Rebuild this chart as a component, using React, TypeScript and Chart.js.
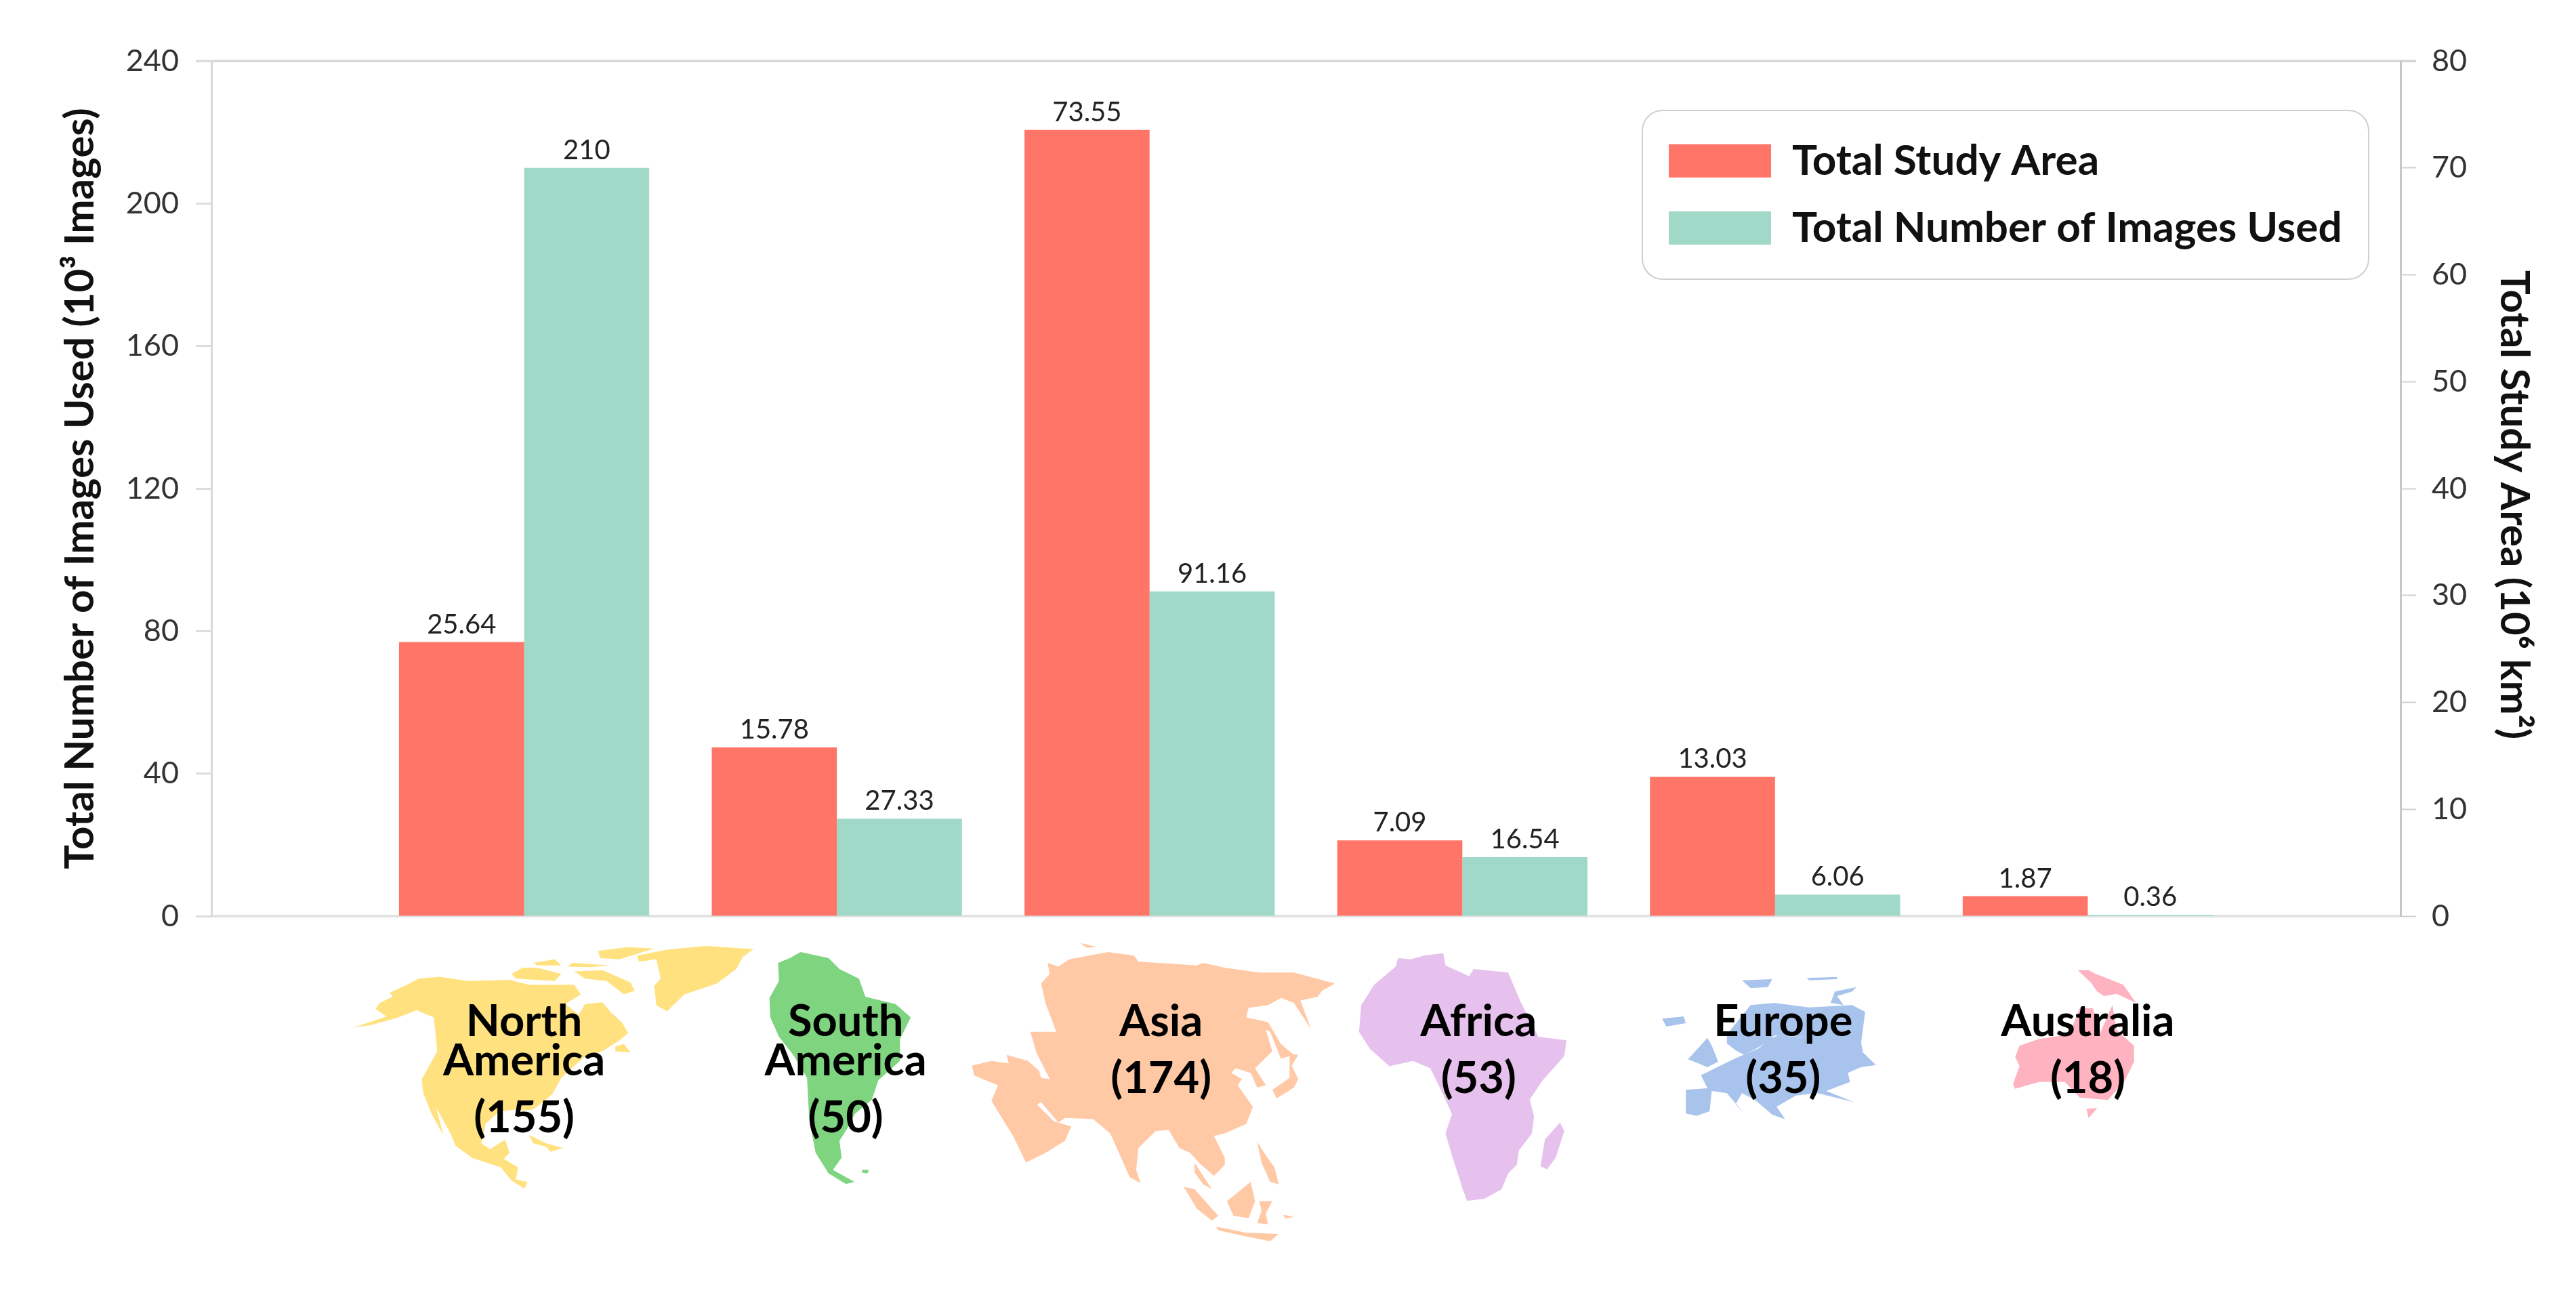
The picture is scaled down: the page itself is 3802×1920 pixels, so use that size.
import React, { useEffect, useRef } from "react";
import { Chart, registerables } from "chart.js";

Chart.register(...registerables);

// ---------- data ----------
const categories = ["", "North America", "South America", "Asia", "Africa", "Europe", "Australia", ""];
const studyArea = [null, 25.64, 15.78, 73.55, 7.09, 13.03, 1.87, null];
const imagesUsed = [null, 210, 27.33, 91.16, 16.54, 6.06, 0.36, null];
const studyAreaText = ["", "25.64", "15.78", "73.55", "7.09", "13.03", "1.87", ""];
const imagesUsedText = ["", "210", "27.33", "91.16", "16.54", "6.06", "0.36", ""];
const nameLines = [["North", "America"], ["South", "America"], ["Asia"], ["Africa"], ["Europe"], ["Australia"]];
const studyCounts = ["(155)", "(50)", "(174)", "(53)", "(35)", "(18)"];
const labelShift = [0, 13, 17, 24, 12, 0];
const seriesNames = ["Total Study Area", "Total Number of Images Used"];
const leftTitle = "Total Number of Images Used (10³ Images)";
const rightTitle = "Total Study Area (10⁶ km²)";

// ---------- styles ----------
const RED = "#FF7568";
const TEAL = "#A0D9C8";
const FONT = "Lato, 'Noto Sans', sans-serif";

// ---------- decorative continent outlines (traced units, placed relative to each category) ----------
type Poly = number[][];
const naShape: Poly[] = [
  [[65,522],[140,476],[115,445],[125,420],[155,395],[148,378],[188,345],[215,320],[262,312],[330,330],[425,325],[470,345],[530,345],[575,345],[590,385],[555,425],[585,470],[600,425],[640,418],[660,460],[685,500],[700,545],[680,575],[640,620],[600,640],[545,730],[525,795],[510,820],[480,860],[455,865],[440,860],[400,870],[370,920],[360,1000],[380,1025],[415,985],[425,1040],[412,1065],[445,1100],[440,1150],[467,1160],[460,1188],[430,1155],[405,1100],[340,1062],[300,1010],[290,965],[255,850],[272,965],[245,880],[225,790],[222,735],[258,620],[250,480],[210,450],[165,482],[105,512]],
  [[430,300],[455,275],[490,275],[545,300],[530,330],[440,320]],
  [[480,255],[530,240],[545,265],[490,265]],
  [[570,255],[660,265],[610,272],[560,270]],
  [[575,290],[640,285],[705,335],[715,370],[690,385],[650,330],[600,320]],
  [[630,205],[700,190],[760,195],[680,240],[635,235]],
  [[720,225],[790,200],[880,185],[990,198],[965,230],[950,280],[905,340],[830,385],[790,455],[765,430],[760,350],[775,320],[765,240],[725,250]],
  [[670,600],[690,590],[705,625],[670,620]],
  [[470,965],[510,1000],[550,1020],[520,1035],[510,1015],[480,1000]],
];
const saShape: Poly[] = [
  [[1100,210],[1165,235],[1190,280],[1235,320],[1250,395],[1320,425],[1355,480],[1330,570],[1330,660],[1280,740],[1265,820],[1225,880],[1215,920],[1190,990],[1195,1060],[1175,1110],[1225,1160],[1205,1168],[1165,1125],[1135,1040],[1120,900],[1115,730],[1085,640],[1050,560],[1030,480],[1028,400],[1050,330],[1048,255],[1075,235]],
  [[1242,1110],[1258,1110],[1255,1125],[1243,1122]],
];
const asiaShape: Poly[] = [
  [[230,255],[255,270],[280,240],[370,210],[430,225],[440,250],[530,260],[575,265],[590,255],[640,275],[720,295],[800,295],[895,340],[865,370],[855,395],[815,410],[840,530],[800,420],[770,400],[740,430],[695,440],[690,480],[740,500],[770,590],[800,635],[770,650],[745,540],[735,530],[750,620],[710,690],[735,760],[715,770],[700,710],[665,690],[655,710],[680,735],[670,760],[705,850],[690,920],[640,960],[615,970],[640,1060],[640,1090],[615,1135],[580,1080],[560,1040],[535,1020],[510,945],[480,950],[440,1020],[435,1110],[445,1165],[420,1140],[375,960],[335,900],[270,895],[255,915],[215,830],[205,840],[245,910],[285,930],[270,990],[225,1040],[180,1080],[150,970],[100,825],[115,760],[60,720],[55,680],[100,660],[140,670],[135,635],[185,660],[210,700],[215,730],[235,735],[205,630],[190,540],[250,540],[225,420],[215,340],[235,300]],
  [[545,1180],[570,1190],[625,1300],[610,1320],[575,1270]],
  [[620,1345],[690,1370],[765,1375],[745,1405],[690,1385],[625,1360]],
  [[700,1160],[710,1240],[695,1310],[660,1300],[645,1240]],
  [[720,1240],[750,1240],[735,1290],[740,1335],[715,1330],[725,1280]],
  [[715,995],[735,1050],[755,1100],[765,1170],[745,1160],[725,1080]],
  [[790,630],[810,635],[795,680],[810,735],[800,770],[760,815],[750,780],[790,730]],
  [[570,1080],[610,1190],[590,1170],[570,1120]],
  [[305,172],[345,190],[320,192]],
  [[775,1295],[800,1305],[780,1312]],
];
const africaShape: Poly[] = [
  [[1040,235],[1070,240],[1100,225],[1145,215],[1150,265],[1205,310],[1215,280],[1295,295],[1325,420],[1365,560],[1430,575],[1425,640],[1375,740],[1345,820],[1355,890],[1350,960],[1320,1030],[1315,1090],[1295,1125],[1280,1190],[1240,1230],[1200,1238],[1190,1190],[1165,1050],[1150,960],[1165,880],[1145,800],[1115,690],[1075,660],[1020,682],[975,610],[950,540],[955,430],[985,345],[1035,270]],
  [[1415,915],[1425,950],[1405,1060],[1385,1108],[1370,1095],[1380,985]],
];
const europeShape: Poly[] = [
  [[250,1010],[330,935],[385,890],[405,850],[430,835],[620,860],[625,910],[655,965],[620,975],[590,1000],[595,1040],[540,1080],[605,1130],[520,1090],[470,1100],[425,1150],[445,1205],[415,1185],[375,1120],[345,1090],[330,1140],[350,1180],[310,1090],[275,1080],[270,1170],[240,1190],[215,1180],[215,1075],[265,1068]],
  [[310,830],[365,700],[420,690],[500,710],[600,700],[630,730],[620,880],[480,840],[420,835],[385,885],[350,920],[330,900],[310,870]],
  [[220,940],[265,845],[275,880],[290,950],[265,975],[240,955]],
  [[160,760],[210,750],[215,780],[170,795]],
  [[345,590],[415,585],[405,620],[365,625]],
  [[495,580],[565,575],[565,585],[500,590]],
  [[610,620],[560,640],[550,690],[580,700],[565,660],[600,640]],
];
const australiaShape: Poly[] = [
  [[985,880],[1030,850],[1100,830],[1125,710],[1155,715],[1170,830],[1200,700],[1210,810],[1250,880],[1250,950],[1230,1030],[1190,1120],[1125,1110],[1090,1040],[1030,1040],[975,1070],[970,1050],[985,970],[975,930]],
  [[1120,545],[1145,545],[1160,560],[1225,610],[1255,690],[1210,650],[1180,660],[1165,640],[1150,600]],
  [[1140,1160],[1165,1155],[1145,1200]],
];
const shapes = [naShape, saShape, asiaShape, africaShape, europeShape, australiaShape];
const shapeColors = ["#FFE27F", "#7FD47F", "#FFC9A6", "#E6C1EE", "#A9C4EC", "#FFB2C0"];
// traced-unit x of the category centre, traced-unit y of the baseline, units per pixel
const shapeFrames = [
  { cx: 459, base: 61.6, sx: 1.568, sy: 2.8 },
  { cx: 1184, base: 61.6, sx: 1.568, sy: 2.8 },
  { cx: 466, base: 61.6, sx: 1.568, sy: 2.8 },
  { cx: 1189, base: 61.6, sx: 1.568, sy: 2.8 },
  { cx: 421.5, base: 306, sx: 1.568, sy: 3 },
  { cx: 1143, base: 306, sx: 1.568, sy: 3 },
];

const decorations = {
  id: "decorations",
  afterLayout(chart: any) {
    const l = chart.legend;
    if (l) {
      l.left = 2426;
      l.top = 169.5;
      l.right = 3492;
      l.bottom = 410;
      l.width = l.right - l.left;
      l.height = l.bottom - l.top;
    }
  },
  beforeDraw(chart: any) {
    const { ctx, chartArea } = chart;
    ctx.save();
    ctx.fillStyle = "#fff";
    ctx.fillRect(0, 0, chart.width, chart.height);
    // upper frame line
    ctx.strokeStyle = "#d4d4d4";
    ctx.lineWidth = 3;
    ctx.beginPath();
    ctx.moveTo(chartArea.left - 23, chartArea.top);
    ctx.lineTo(chartArea.right + 23, chartArea.top);
    ctx.stroke();
    // legend frame
    ctx.strokeStyle = "#cfcfcf";
    ctx.lineWidth = 2;
    ctx.beginPath();
    ctx.roundRect(2424, 163, 1072, 249, 30);
    ctx.stroke();
    ctx.restore();
  },
  beforeDatasetsDraw(chart: any) {
    const { ctx, chartArea, scales } = chart;
    ctx.save();
    // inward minor ticks
    ctx.lineWidth = 2;
    ctx.strokeStyle = "#dcdcdc";
    scales.yImages.ticks.forEach((t: any) => {
      if (t.value % 40 !== 0) {
        const y = scales.yImages.getPixelForValue(t.value);
        ctx.beginPath();
        ctx.moveTo(chartArea.left, y);
        ctx.lineTo(chartArea.left + 13, y);
        ctx.stroke();
      }
    });
    scales.yArea.ticks.forEach((t: any) => {
      if (t.value % 10 !== 0) {
        const y = scales.yArea.getPixelForValue(t.value);
        ctx.beginPath();
        ctx.moveTo(chartArea.right, y);
        ctx.lineTo(chartArea.right - 13, y);
        ctx.stroke();
      }
    });
    // continents
    shapes.forEach((polys, i) => {
      const f = shapeFrames[i];
      const cx = scales.x.getPixelForValue(i + 1);
      ctx.fillStyle = shapeColors[i];
      polys.forEach((poly) => {
        ctx.beginPath();
        poly.forEach(([px, py], k) => {
          const x = cx + (px - f.cx) / f.sx;
          const y = chartArea.bottom + (py - f.base) / f.sy;
          if (k === 0) ctx.moveTo(x, y);
          else ctx.lineTo(x, y);
        });
        ctx.closePath();
        ctx.fill();
      });
    });
    ctx.restore();
  },
  afterDraw(chart: any) {
    const { ctx, chartArea, scales } = chart;
    ctx.save();
    // value labels
    ctx.font = `400 40px ${FONT}`;
    ctx.fillStyle = "#222";
    ctx.textAlign = "center";
    ctx.textBaseline = "alphabetic";
    [studyAreaText, imagesUsedText].forEach((texts, d) => {
      chart.getDatasetMeta(d).data.forEach((bar: any, i: number) => {
        if (texts[i]) ctx.fillText(texts[i], bar.x, bar.y - 13);
      });
    });
    // continent names and counts
    ctx.fillStyle = "#000";
    ctx.font = `700 65px ${FONT}`;
    nameLines.forEach((lines, i) => {
      const x = scales.x.getPixelForValue(i + 1) + labelShift[i];
      lines.forEach((line, k) => ctx.fillText(line, x, chartArea.bottom + 177 + k * 58));
      const countY = chartArea.bottom + (lines.length > 1 ? 319 : 261);
      ctx.fillText(studyCounts[i], x, countY);
    });
    // right axis title
    ctx.font = `700 60px ${FONT}`;
    ctx.fillStyle = "#111";
    ctx.translate(3710, 745);
    ctx.rotate(Math.PI / 2);
    ctx.textBaseline = "middle";
    ctx.fillText(rightTitle, 0, 0);
    ctx.restore();
  },
};

export default function App() {
  const ref = useRef<HTMLCanvasElement>(null);
  useEffect(() => {
    const chart = new Chart(ref.current as HTMLCanvasElement, {
      type: "bar",
      data: {
        labels: categories,
        datasets: [
          { label: seriesNames[0], data: studyArea as any, backgroundColor: RED, yAxisID: "yArea", categoryPercentage: 0.8, barPercentage: 1 },
          { label: seriesNames[1], data: imagesUsed as any, backgroundColor: TEAL, yAxisID: "yImages", categoryPercentage: 0.8, barPercentage: 1 },
        ],
      },
      options: {
        responsive: false,
        animation: false,
        layout: { padding: { top: 90 } },
        plugins: {
          tooltip: { enabled: false },
          legend: {
            position: "chartArea" as any,
            align: "start",
            labels: {
              boxWidth: 151,
              boxHeight: 49,
              padding: 37,
              color: "#111",
              font: { family: FONT, size: 62, weight: 700 as any },
            },
          },
        },
        scales: {
          x: {
            offset: false,
            grid: { display: false },
            border: { color: "#e2e2e2", width: 4 },
            ticks: { display: false },
            afterFit(s: any) { s.height = 568; },
          },
          yImages: {
            position: "left",
            min: 0,
            max: 240,
            border: { color: "#d9d9d9", width: 3 },
            grid: {
              drawOnChartArea: false,
              tickLength: 23,
              tickWidth: 3,
              tickColor: (c: any) => (c.tick && c.tick.value % 40 === 0 ? "#dcdcdc" : "rgba(0,0,0,0)"),
            },
            ticks: {
              stepSize: 20,
              padding: 25,
              color: "#333",
              font: { family: FONT, size: 45 },
              callback: (v: any) => (Number(v) % 40 === 0 ? String(v) : null),
            },
            title: {
              display: true,
              text: leftTitle,
              color: "#111",
              font: { family: FONT, size: 60, weight: 700 as any },
              padding: { top: 83, bottom: 0 },
            },
            afterFit(s: any) { s.width = 312; },
          },
          yArea: {
            position: "right",
            min: 0,
            max: 80,
            border: { color: "#c8c8c8", width: 3 },
            grid: {
              drawOnChartArea: false,
              tickLength: 23,
              tickWidth: 2,
              tickColor: (c: any) => (c.tick && c.tick.value % 10 === 0 ? "#d0d0d0" : "rgba(0,0,0,0)"),
            },
            ticks: {
              stepSize: 5,
              padding: 23,
              color: "#333",
              font: { family: FONT, size: 45 },
              callback: (v: any) => (Number(v) % 10 === 0 ? String(v) : null),
            },
            afterFit(s: any) { s.width = 259; },
          },
        },
      },
      plugins: [decorations],
    });
    return () => chart.destroy();
  }, []);
  return (
    <div style={{ position: "absolute", left: 0, top: 0, width: 3802, height: 1920, background: "#fff" }}>
      <canvas ref={ref} width={3802} height={1920} style={{ display: "block" }} />
    </div>
  );
}
